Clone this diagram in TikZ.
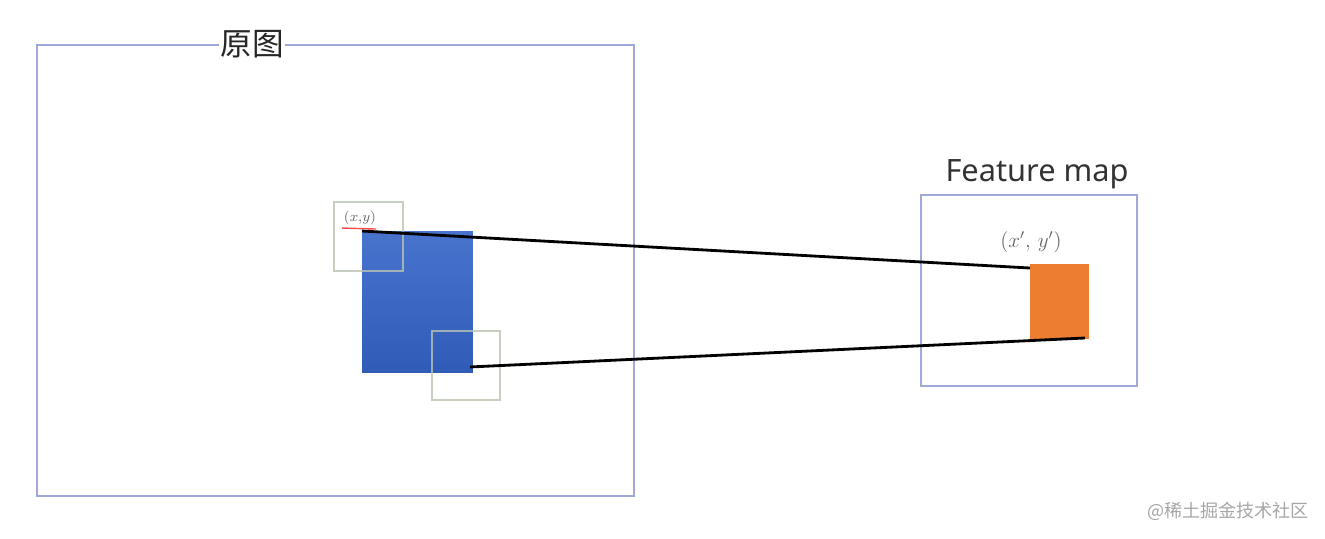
\documentclass[tikz,border=0pt]{standalone}
\usepackage{fontspec}
\setmainfont{Noto Sans}
\newfontfamily\cjk{Noto Sans CJK SC}
\usetikzlibrary{positioning}
\usetikzlibrary{calc}
\definecolor{frameblue}{RGB}{160,168,215}
\definecolor{wingray}{RGB}{185,195,180}
\definecolor{cellblue}{RGB}{52,100,200}
\definecolor{cellorange}{RGB}{237,125,49}

\begin{document}
\begin{tikzpicture}[x=0.02cm, y=-0.02cm,
    every node/.style={inner sep=0pt, outer sep=0pt},
    frame/.style={draw=frameblue, line width=0.8pt, rectangle},
    win/.style={draw=wingray, line width=1pt, rectangle, draw opacity=0.8},
    lbl/.style={fill=white, inner sep=1pt}]
            \useasboundingbox (0,0) rectangle (1325,538);

            \node[frame, minimum width=11.94cm, minimum height=9.02cm] (img) at (335.5, 270.5) {};
            \node[frame, minimum width=4.32cm, minimum height=3.82cm] (fmap) at (1029, 290.5) {};

            \node[lbl, font=\cjk\fontsize{18}{18}\selectfont, text=black!85] (t1) at (252, 44) {原图};
            \node[font=\fontsize{17.5}{18}\selectfont, text=black!80] (t2) at (1037, 174) {Feature map};

            \node[top color=cellblue!90!white, bottom color=cellblue!92!black, minimum width=2.22cm, minimum height=2.84cm] (roi) at (417.5, 302) {};
            \node[fill=cellorange, minimum width=1.18cm, minimum height=1.5cm] (cell) at (1059.5, 301.5) {};

            \node[win, minimum width=1.38cm, minimum height=1.38cm] (w1) at (368.5, 236.5) {};
            \node[win, minimum width=1.36cm, minimum height=1.38cm] (w2) at (466, 365.5) {};

            \node[font=\fontsize{8}{8}\selectfont, text=black!60] (xy) at (360, 218) {$(x{,}y)$};
            \node[font=\fontsize{11.5}{12}\selectfont, text=black!60] (xy2) at (1031, 242) {$(x',\,y')$};

            \coordinate (a) at (roi.north west);
            \coordinate (b) at ($(roi.south east)+(-3,-6)$);
            \coordinate (c) at ($(cell.north west)+(0,4)$);
            \coordinate (d) at ($(cell.south east)+(-4,-1)$);

            \draw[red!70, line width=0.8pt] ($(xy.south west)+(-2,3)$) -- ($(xy.south east)+(0,4)$);
            \draw[line width=1.6pt] (a) -- (c);
            \draw[line width=1.6pt] (b) -- (d);

            \node[font=\cjk\fontsize{10.3}{11}\selectfont, text=black!35] (wm) at (1228, 511) {@稀土掘金技术社区};
        \end{tikzpicture}
\end{document}
